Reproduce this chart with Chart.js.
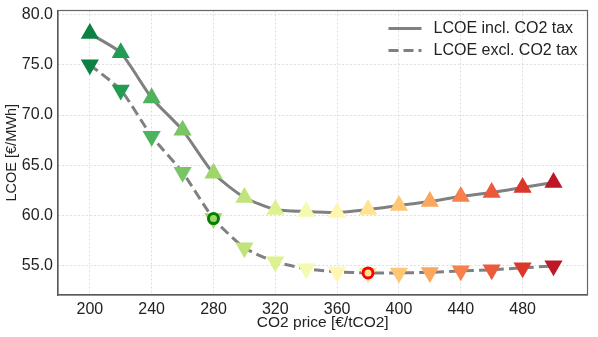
<!DOCTYPE html>
<html lang="en">
<head>
  <meta charset="UTF-8">
  <title>LCOE vs CO2 price</title>
  <script src="https://cdn.jsdelivr.net/npm/chart.js"></script>
  <style>
    html, body { margin: 0; padding: 0; background: #fff; }
    .wrap { width: 598px; height: 337px; }
  </style>
</head>
<body>
<div class="wrap"><canvas id="lcoeChart" width="598" height="337"></canvas></div>
<script>
const co2Price = [200, 220, 240, 260, 280, 300, 320, 340, 360, 380, 400, 420, 440, 460, 480, 500];
const lcoeIncl = [78.1, 76.2, 71.7, 68.5, 64.2, 61.8, 60.6, 60.4, 60.3, 60.6, 61.0, 61.4, 61.9, 62.3, 62.8, 63.3];
const lcoeExcl = [75.0, 72.5, 67.9, 64.3, 59.7, 56.8, 55.4, 54.7, 54.4, 54.3, 54.3, 54.35, 54.5, 54.6, 54.8, 55.0];
const highlightX = [280, 380];
const highlightY = [59.7, 54.3];
const highlightColors = ['#008000', '#ff0000'];
const xTicks = [200, 240, 280, 320, 360, 400, 440, 480];
const yTicks = [55, 60, 65, 70, 75, 80];

const fontFamily = '"Liberation Sans", Arial, sans-serif';

// RdYlGn colormap, reversed so low prices are green
const rdylgn = ['#a50026', '#d73027', '#f46d43', '#fdae61', '#fee08b', '#ffffbf',
                '#d9ef8b', '#a6d96a', '#66bd63', '#1a9850', '#006837'];
function cmap(t) {
  const p = t * (rdylgn.length - 1);
  const i = Math.min(Math.floor(p), rdylgn.length - 2);
  const f = p - i;
  const a = rdylgn[i], b = rdylgn[i + 1];
  const c = k => Math.round(parseInt(a.substr(k, 2), 16) * (1 - f) + parseInt(b.substr(k, 2), 16) * f);
  return `rgb(${c(1)},${c(3)},${c(5)})`;
}
const markerColors = co2Price.map((_, i) => cmap(0.95 - 0.9 * i / (co2Price.length - 1)));

const toXY = (xs, ys) => xs.map((x, i) => ({ x: x, y: ys[i] }));

// frame + legend drawn inside the plot area
const framePlugin = {
  id: 'frame',
  afterDraw(chart) {
    const { ctx, chartArea: a } = chart;
    ctx.save();
    ctx.strokeStyle = '#666';
    ctx.lineWidth = 1.2;
    ctx.strokeRect(a.left, a.top, a.right - a.left, a.bottom - a.top);

    const items = chart.data.datasets.filter(d => d.inLegend);
    let y = a.top + 18;
    items.forEach(d => {
      ctx.strokeStyle = d.borderColor;
      ctx.lineWidth = d.borderWidth;
      ctx.setLineDash(d.borderDash || []);
      ctx.beginPath();
      ctx.moveTo(a.right - 199, y);
      ctx.lineTo(a.right - 166, y);
      ctx.stroke();
      ctx.setLineDash([]);
      ctx.fillStyle = '#222';
      ctx.font = '16px ' + fontFamily;
      ctx.textBaseline = 'middle';
      ctx.fillText(d.label, a.right - 154, y);
      y += 22;
    });
    ctx.restore();
  }
};

new Chart(document.getElementById('lcoeChart'), {
  type: 'line',
  data: {
    datasets: [
      {
        label: 'highlight',
        data: toXY(highlightX, highlightY),
        showLine: false,
        pointStyle: 'circle',
        pointRadius: 5,
        pointBorderWidth: 3,
        pointBackgroundColor: 'rgba(0,0,0,0)',
        pointBorderColor: highlightColors,
        order: 0
      },
      {
        label: 'incl markers',
        data: toXY(co2Price, lcoeIncl),
        showLine: false,
        pointStyle: 'triangle',
        pointRadius: 10.5,
        pointBorderWidth: 0,
        pointBackgroundColor: markerColors,
        order: 1
      },
      {
        label: 'excl markers',
        data: toXY(co2Price, lcoeExcl),
        showLine: false,
        pointStyle: 'triangle',
        pointRotation: 180,
        pointRadius: 10.5,
        pointBorderWidth: 0,
        pointBackgroundColor: markerColors,
        order: 1
      },
      {
        label: 'LCOE incl. CO2 tax',
        inLegend: true,
        data: toXY(co2Price, lcoeIncl),
        borderColor: '#808080',
        borderWidth: 3,
        pointRadius: 0,
        tension: 0.2,
        order: 2
      },
      {
        label: 'LCOE excl. CO2 tax',
        inLegend: true,
        data: toXY(co2Price, lcoeExcl),
        borderColor: '#808080',
        borderWidth: 3,
        borderDash: [10, 5],
        pointRadius: 0,
        tension: 0.2,
        order: 2
      }
    ]
  },
  options: {
    responsive: false,
    animation: false,
    layout: { padding: { top: 9, right: 9, left: 0, bottom: 0 } },
    plugins: {
      legend: { display: false },
      tooltip: { enabled: false }
    },
    scales: {
      x: {
        type: 'linear',
        min: 179.4,
        max: 522,
        afterFit(scale) { scale.height = 42; scale.paddingLeft = 0; scale.paddingRight = 0; },
        afterBuildTicks(scale) { scale.ticks = xTicks.map(v => ({ value: v })); },
        grid: { color: '#dddddd', lineWidth: 1, drawTicks: false },
        border: { color: '#444', width: 1.2, dash: [2, 2] },
        ticks: { padding: 5, color: '#222', font: { family: fontFamily, size: 16 } },
        title: {
          display: true,
          text: 'CO2 price [€/tCO2]',
          color: '#222',
          font: { family: fontFamily, size: 15.5 },
          padding: { top: 0, bottom: 5 }
        }
      },
      y: {
        min: 52.1,
        max: 80.4,
        afterFit(scale) { scale.width = 58; scale.paddingTop = 0; scale.paddingBottom = 0; },
        afterBuildTicks(scale) { scale.ticks = yTicks.map(v => ({ value: v })); },
        grid: { color: '#dddddd', lineWidth: 1, drawTicks: false },
        border: { color: '#444', width: 1.2, dash: [2, 2] },
        ticks: {
          padding: 5,
          color: '#222',
          font: { family: fontFamily, size: 16 },
          callback: v => v.toFixed(1)
        },
        title: {
          display: true,
          text: 'LCOE [€/MWh]',
          color: '#222',
          font: { family: fontFamily, size: 14.5 },
          padding: { top: 3, bottom: 0 }
        }
      }
    }
  },
  plugins: [framePlugin]
});
</script>
</body>
</html>
